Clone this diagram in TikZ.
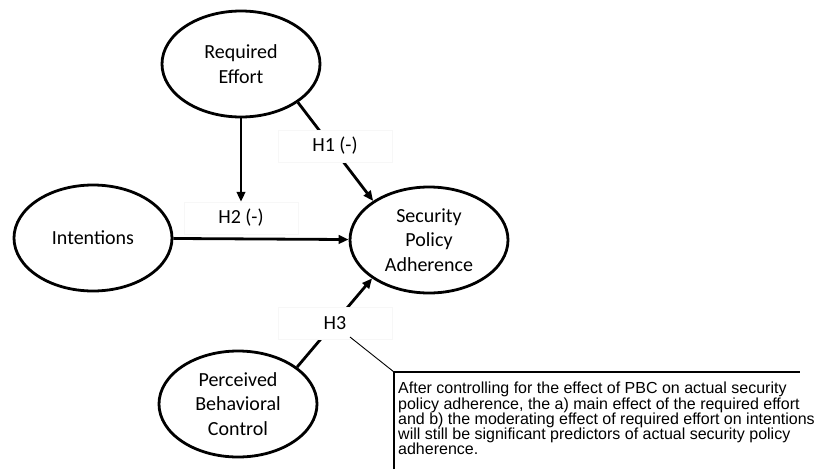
\documentclass[tikz,border=0pt]{standalone}
\usepackage{fontspec}
\setmainfont{Carlito}
\newfontfamily\notefont{Liberation Sans}
\usetikzlibrary{shapes.geometric,arrows.meta}

\begin{document}
\begin{tikzpicture}[x=1pt,y=-1pt,
    construct/.style={ellipse, draw, line width=2.8pt, minimum width=158pt, minimum height=106pt,
                      inner sep=0pt, align=center, font=\fontsize{20}{24.5}\selectfont},
    effect/.style={line width=2.8pt, -{Triangle[length=10pt,width=8.5pt]}},
    hyplabel/.style={fill=white, draw=black!3, minimum width=114pt, minimum height=32pt,
                     font=\fontsize{20}{24}\selectfont},
    notetext/.style={align=left, inner sep=0pt, font=\notefont\fontsize{16}{15.25}\selectfont}]

    % Fix the frame of the picture
    \useasboundingbox (0,0) rectangle (816,469);

    % The four constructs
    \node[construct] (RE)  at (241,64)  {Required\\Effort};
    \node[construct] (INT) at (93,238)  {Intentions};
    \node[construct] (SPA) at (429,240) {Security\\Policy\\Adherence};
    \node[construct] (PBC) at (238,404) {Perceived\\Behavioral\\Control};

    % Moderation label sits where the vertical arrow ends
    \node[hyplabel] (h2) at (241,218) {H2 (-)};

    % Paths of the model
    \draw[effect] (RE.-34) -- (SPA.145); % H1
    \draw[effect] (RE) -- (h2);          % moderation
    \draw[effect] (INT) -- (SPA);        % intentions
    \draw[effect] (PBC.32) -- (SPA.214); % H3

    % Labels on top of the paths
    \node[hyplabel] (h1) at (335,146) {H1 (-)};
    \node[hyplabel] (h3) at (335,323) {H3};

    % Callout for H3
    \coordinate (lead) at (350,337);
    \coordinate (bend) at (394,372);
    \coordinate (noteend) at (800,372);
    \coordinate (notefoot) at (394,469);
    \draw[line width=0.9pt] (lead) -- (bend);
    \draw[line width=1.2pt] (notefoot) -- (bend) -- (noteend);

    \node[notetext, anchor=north west] (note) at (398,382)
        {After controlling for the effect of PBC on actual security\\
         policy adherence, the a) main effect of the required effort\\
         and b) the moderating effect of required effort on intentions\\
         will still be significant predictors of actual security policy\\
         adherence.};

\end{tikzpicture}
\end{document}
